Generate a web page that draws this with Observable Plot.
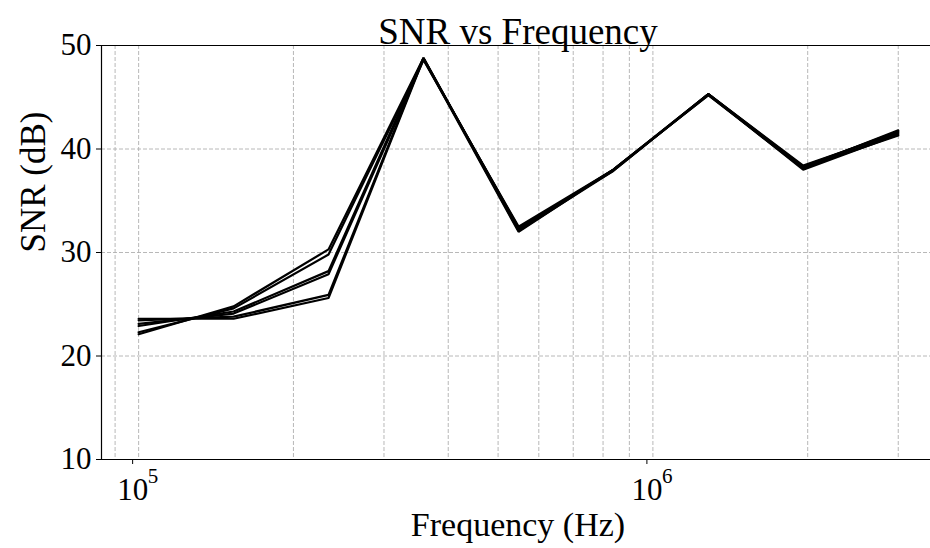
<!DOCTYPE html>
<html>
<head>
<meta charset="utf-8">
<script src="https://cdn.jsdelivr.net/npm/d3@7"></script>
<script src="https://cdn.jsdelivr.net/npm/@observablehq/plot@0.6"></script>
<style>
  html, body { margin: 0; padding: 0; background: #fff; }
  #chart svg { display: block; }
</style>
</head>
<body>
<div id="chart"></div>
<script>
// ---- data ----
const freqs = [100000, 153000, 234000, 358000, 548000, 838000, 1282000, 1960000, 3000000];
const snr1 = [22.1, 24.8, 30.3, 48.8, 32.3, 38.0, 45.3, 38.2, 41.8];
const snr2 = [22.3, 24.6, 29.8, 48.7, 32.4, 37.9, 45.3, 38.4, 41.6];
const snr3 = [22.9, 24.3, 28.2, 48.8, 32.2, 38.0, 45.2, 38.1, 41.5];
const snr4 = [23.1, 24.1, 27.9, 48.6, 32.5, 38.0, 45.3, 38.3, 41.7];
const snr5 = [23.45, 23.8, 25.9, 48.8, 32.1, 37.9, 45.3, 38.0, 41.4];
const snr6 = [23.6, 23.6, 25.6, 48.7, 32.0, 38.0, 45.2, 38.2, 41.3];
const seriesList = [snr1, snr2, snr3, snr4, snr5, snr6];

const yTicks = [10, 20, 30, 40, 50];
const xTickValues = [100000, 1000000];
const xTickBase = ["10", "10"];
const xTickExp = ["5", "6"];
const xMinorGrid = [90000, 200000, 300000, 400000, 500000, 600000, 700000, 800000, 900000, 2000000, 3000000];

const titleText = "SNR vs Frequency";
const xLabel = "Frequency (Hz)";
const yLabel = "SNR (dB)";

// ---- table ----
const rows = [];
seriesList.forEach((s, k) => s.forEach((v, i) => rows.push({series: k, f: freqs[i], snr: v})));

const xDomain = [84680, 3466000];
const yDomain = [10, 50];
const grid = {stroke: "#b0b0b0", strokeWidth: 0.9, strokeDasharray: "4,2"};

const chart = Plot.plot({
  width: 930,
  height: 548,
  marginLeft: 101,
  marginRight: 0,
  marginTop: 45,
  marginBottom: 89,
  style: {fontFamily: "'Liberation Serif', 'Times New Roman', serif", background: "#fff", color: "#000"},
  x: {type: "log", domain: xDomain},
  y: {domain: yDomain},
  marks: [
    Plot.ruleX(xMinorGrid, grid),
    Plot.ruleX(xTickValues, grid),
    Plot.ruleY(yTicks.slice(1, -1), grid),
    Plot.line(rows, {x: "f", y: "snr", z: "series", stroke: "#000", strokeWidth: 2.2, strokeLinejoin: "miter"}),
    Plot.ruleY([yDomain[0], yDomain[1]], {stroke: "#000", strokeWidth: 1.2}),
    Plot.ruleX([xDomain[0]], {stroke: "#000", strokeWidth: 1.2}),
    Plot.axisY({ticks: yTicks, tickSize: 5, tickPadding: 5, fontSize: 31, label: null, tickFormat: d => String(d)}),
    Plot.axisX({ticks: xTickValues, tickSize: 5, tickPadding: 13, fontSize: 31, label: null, dx: -6,
                tickFormat: (d) => xTickBase[xTickValues.indexOf(d)]}),
    Plot.text(xTickValues, {x: d => d, frameAnchor: "bottom", text: (d, i) => xTickExp[i],
                            textAnchor: "start", lineAnchor: "top", dx: 9, dy: 9, fontSize: 21}),
    Plot.text([titleText], {frameAnchor: "top", text: d => d, lineAnchor: "bottom", dy: -2, dx: 2, fontSize: 37}),
    Plot.text([xLabel], {frameAnchor: "bottom", text: d => d, lineAnchor: "top", dy: 52, dx: 2, fontSize: 34}),
    Plot.text([yLabel], {frameAnchor: "left", text: d => d, lineAnchor: "top", rotate: -90, dx: -81, fontSize: 35})
  ]
});
document.getElementById("chart").appendChild(chart);
</script>
</body>
</html>
